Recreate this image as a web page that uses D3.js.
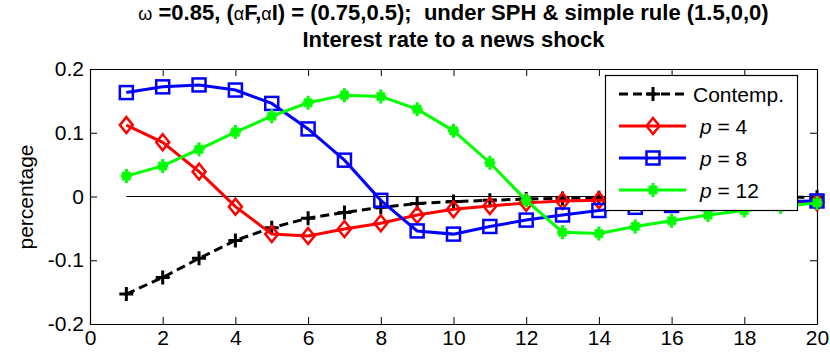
<!DOCTYPE html>
<html>
<head>
<meta charset="utf-8">
<script src="https://cdn.jsdelivr.net/npm/d3@7"></script>
<style>
  html, body { margin: 0; padding: 0; background: #fff; }
  svg { display: block; font-family: "Liberation Sans", Arial, sans-serif; }
</style>
</head>
<body>
<svg id="chart" width="830" height="355"></svg>
<script>
// ---- data ----
const horizons = [1,2,3,4,5,6,7,8,9,10,11,12,13,14,15,16,17,18,19,20];
const contemp = [-0.153,-0.127,-0.097,-0.069,-0.049,-0.034,-0.025,-0.017,-0.011,-0.008,-0.006,-0.004,-0.003,-0.002,-0.002,-0.001,-0.001,-0.001,-0.001,-0.001];
const p4  = [0.112,0.085,0.039,-0.016,-0.059,-0.062,-0.051,-0.042,-0.029,-0.020,-0.015,-0.010,-0.007,-0.006,-0.006,-0.006,-0.006,-0.007,-0.008,-0.009];
const p8  = [0.163,0.172,0.175,0.167,0.146,0.106,0.057,-0.006,-0.054,-0.059,-0.047,-0.037,-0.029,-0.022,-0.017,-0.014,-0.011,-0.009,-0.008,-0.007];
const p12 = [0.032,0.048,0.074,0.101,0.126,0.147,0.159,0.157,0.137,0.103,0.053,-0.006,-0.056,-0.058,-0.047,-0.038,-0.029,-0.022,-0.016,-0.010];
const xTicks = [0,2,4,6,8,10,12,14,16,18,20];
const yTicks = [-0.2,-0.1,0,0.1,0.2];
const yTickLabels = ["-0.2","-0.1","0","0.1","0.2"];
const seriesNames = ["Contemp.","p = 4","p = 8","p = 12"];
const seriesColors = ["#000000","#ff0000","#0000ff","#00ff00"];
const seriesMarkers = ["plus","diamond","square","star"];
const titleLine2 = "Interest rate to a news shock";
const yLabel = "percentage";

const series = [contemp, p4, p8, p12];

// ---- layout ----
const svg = d3.select("#chart");
const mLeft = 90, mRight = 817, mTop = 69, mBottom = 324;
const x = d3.scaleLinear().domain([0,20]).range([mLeft,mRight]);
const y = d3.scaleLinear().domain([-0.2,0.2]).range([mBottom,mTop]);

svg.append("rect").attr("x",mLeft).attr("y",mTop).attr("width",mRight-mLeft).attr("height",mBottom-mTop).attr("fill","#fff");

// zero line
svg.append("line")
  .attr("x1", x(1)).attr("x2", x(20)).attr("y1", y(0)).attr("y2", y(0))
  .attr("stroke","#000").attr("stroke-width",1);

// axes
const fs = 21;
const gB = svg.append("g").attr("transform",`translate(0,${mBottom})`)
  .call(d3.axisBottom(x).tickValues(xTicks).tickSizeInner(-7).tickSizeOuter(0).tickPadding(6).tickFormat(d3.format("d")));
const gT = svg.append("g").attr("transform",`translate(0,${mTop})`)
  .call(d3.axisTop(x).tickValues(xTicks).tickSizeInner(-7).tickSizeOuter(0).tickFormat(""));
const gL = svg.append("g").attr("transform",`translate(${mLeft},0)`)
  .call(d3.axisLeft(y).tickValues(yTicks).tickSizeInner(-7).tickSizeOuter(0).tickPadding(6)
    .tickFormat((d,i)=>yTickLabels[i]));
const gR = svg.append("g").attr("transform",`translate(${mRight},0)`)
  .call(d3.axisRight(y).tickValues(yTicks).tickSizeInner(-7).tickSizeOuter(0).tickFormat(""));
[gB,gT,gL,gR].forEach(g=>{
  g.selectAll("path.domain").attr("stroke","#000").attr("stroke-width",1.2);
  g.selectAll(".tick line").attr("stroke","#000").attr("stroke-width",1);
  g.selectAll(".tick text").attr("fill","#000").style("font-size",fs+"px")
    .style("font-family",'"Liberation Sans", Arial, sans-serif');
});
gB.selectAll(".tick text").attr("dy","0.71em");

// markers
function drawMarker(g, type, cx, cy, color) {
  if (type === "plus") {
    g.append("path").attr("d",`M${cx-7},${cy}H${cx+7}M${cx},${cy-7}V${cy+7}`)
      .attr("stroke",color).attr("stroke-width",3).attr("fill","none");
  } else if (type === "diamond") {
    g.append("path").attr("d",`M${cx},${cy-8}L${cx+6.5},${cy}L${cx},${cy+8}L${cx-6.5},${cy}Z`)
      .attr("stroke",color).attr("stroke-width",2.5).attr("fill","none");
  } else if (type === "square") {
    g.append("rect").attr("x",cx-6.5).attr("y",cy-6.5).attr("width",13).attr("height",13)
      .attr("stroke",color).attr("stroke-width",2.5).attr("fill","none");
  } else if (type === "star") {
    const r = 5.5, d = r*0.72;
    g.append("path").attr("d",`M${cx-r},${cy}H${cx+r}M${cx},${cy-r-1.5}V${cy+r+1.5}M${cx-d},${cy-d}L${cx+d},${cy+d}M${cx-d},${cy+d}L${cx+d},${cy-d}`)
      .attr("stroke",color).attr("stroke-width",3).attr("fill","none");
  }
}

const line = d3.line().x((d,i)=>x(horizons[i])).y(d=>y(d));
series.forEach((vals, si) => {
  const g = svg.append("g");
  g.append("path").attr("d", line(vals)).attr("fill","none")
    .attr("stroke", seriesColors[si]).attr("stroke-width",3)
    .attr("stroke-dasharray", si===0 ? "9,5" : null);
  vals.forEach((v,i)=> drawMarker(g, seriesMarkers[si], x(horizons[i]), y(v), seriesColors[si]));
});

// legend
const lg = svg.append("g");
lg.append("rect").attr("x",605.5).attr("y",75.5).attr("width",192).attr("height",135)
  .attr("fill","#fff").attr("stroke","#000").attr("stroke-width",1.2);
const rowY = [94,126,158,190];
seriesNames.forEach((name, si) => {
  const yy = rowY[si];
  lg.append("line").attr("x1",619).attr("x2",686).attr("y1",yy).attr("y2",yy)
    .attr("stroke",seriesColors[si]).attr("stroke-width",3)
    .attr("stroke-dasharray", si===0 ? "9,5" : null);
  drawMarker(lg, seriesMarkers[si], 653, yy, seriesColors[si]);
  const t = lg.append("text").attr("y", yy+7.5).style("font-size",fs+"px").attr("fill","#000");
  if (si === 0) {
    t.attr("x",693).text(name);
  } else {
    t.attr("x",700).style("white-space","pre");
    t.append("tspan").style("font-style","italic").text(name.slice(0,1));
    t.append("tspan").text(name.slice(1));
  }
});

// y label
svg.append("text").attr("transform","translate(33,197) rotate(-90)")
  .attr("text-anchor","middle").style("font-size",fs+"px").attr("fill","#000").text(yLabel);

// title
const tcx = (mLeft+mRight)/2;
const t1 = svg.append("text").attr("x",tcx).attr("y",20).attr("text-anchor","middle")
  .style("font-size","22px").style("font-weight","bold").style("white-space","pre").attr("fill","#000");
const parts = [["ω",true],[" =0.85, (",false],["α",true],["F,",false],["α",true],["I) = (0.75,0.5);  under SPH & simple rule (1.5,0,0)",false]];
parts.forEach(([s,greek])=>{
  const ts = t1.append("tspan").text(s);
  if (greek) ts.style("font-size","18px").style("font-weight","normal");
});
svg.append("text").attr("x",tcx).attr("y",47).attr("text-anchor","middle")
  .style("font-size","22px").style("font-weight","bold").attr("fill","#000").text(titleLine2);
</script>
</body>
</html>
